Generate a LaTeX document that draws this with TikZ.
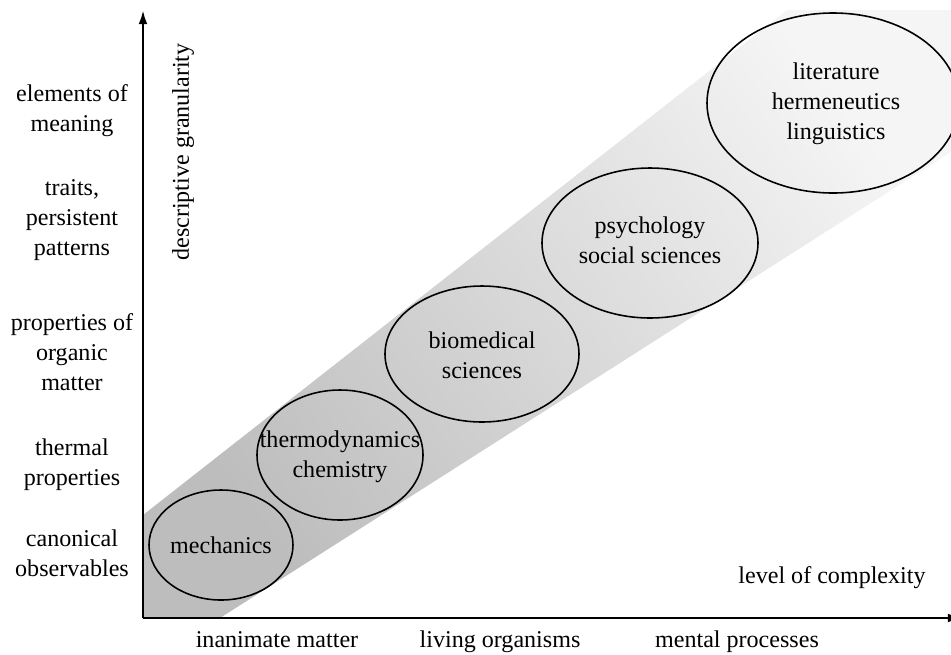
\documentclass[tikz,border=0pt]{standalone}
\usepackage{fontspec}
\setmainfont{Liberation Serif}
\usetikzlibrary{arrows.meta}
\tikzstyle{field}=[draw, line width=0.9pt]
\tikzstyle{level}=[align=center, inner sep=0pt]
\tikzstyle{kind}=[anchor=base]
\tikzstyle{axis}=[line width=1.4pt, -{Latex[length=8pt,width=5pt]}]
\newcommand{\level}{\node[level]}

\begin{document}
\begin{tikzpicture}[x=0.02cm, y=-0.02cm, font=\fontsize{13.7}{17}\selectfont]
	\useasboundingbox (0,0) rectangle (951,654);
	\clip (0,0) rectangle (951,654);
	%% the shaded band
	\shade[bottom color=black!26, top color=black!4, shading angle=-52]
		(143,515) -- (787,10) -- (951,10) -- (951,152) -- (220,618) -- (143,618) -- cycle;
	%% the fields
	\node (mech) at (221,545) {mechanics};
	\node[align=center] (thermo) at (340,457) {thermodynamics\\chemistry};
	\node[align=center] (bio) at (482,355) {biomedical\\sciences};
	\node[align=center] (psych) at (650,240) {psychology\\social sciences};
	\node[align=center] (lit) at (836,104) {literature\\hermeneutics\\linguistics};
	\draw[field] (221,545) ellipse [x radius=72, y radius=55];
	\draw[field] (340,455) ellipse [x radius=83, y radius=65];
	\draw[field] (482,354) ellipse [x radius=97, y radius=68];
	\draw[field] (650,243) ellipse [x radius=108, y radius=75];
	\draw[field] (833,103) ellipse [x radius=126, y radius=90];
	%% the axes
	\coordinate (origin) at (143,618);
	\coordinate (ytip) at (143,10);
	\coordinate (xtip) at (962,618);
	\draw[axis] (origin) -- (ytip);
	\draw[axis] (origin) -- (xtip);
	\node[rotate=90] (granularity) at (183,152) {descriptive granularity};
	\node (complexity) at (832,578) {level of complexity};
	%% the levels of description
	\level (meaning) at (72,111) {elements of\\meaning};
	\level (traits) at (72,220) {traits,\\persistent\\patterns};
	\level (organic) at (72,352) {properties of\\organic\\matter};
	\level (thermal) at (72,465) {thermal\\properties};
	\level (canonical) at (72,553) {canonical\\observables};
	%% the kinds of matter
	\node[kind] (inanimate) at (277,647) {inanimate matter};
	\node[kind] (living) at (500,647) {living organisms};
	\node[kind] (mental) at (737,647) {mental processes};
\end{tikzpicture}
\end{document}
